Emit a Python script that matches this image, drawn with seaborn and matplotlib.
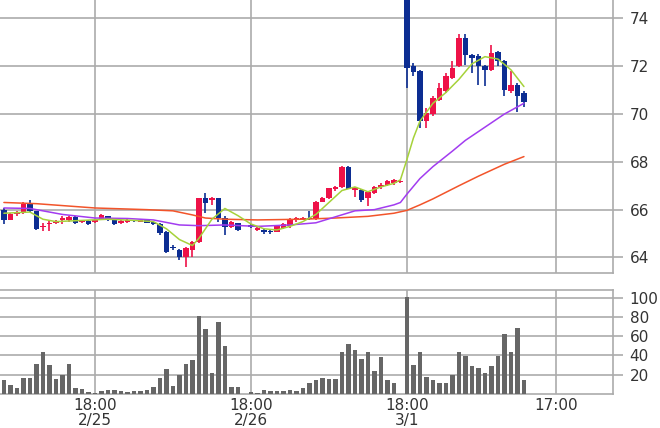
import numpy as np
import pandas as pd
import matplotlib
matplotlib.use("Agg")
import matplotlib.pyplot as plt
import seaborn as sns

# hourly bars, hour 0 = 2/25 18:00 (weekend removed)
hours = list(range(-14, 67))

opens = [66.0, 65.58, 65.82, 65.85, 66.28, 65.93, 65.28, 65.38, 65.45, 65.55,
         65.58, 65.7, 65.48, 65.52, 65.5, 65.58, 65.72, 65.58, 65.45, 65.48,
         65.56, 65.5, 65.55, 65.5, 65.39, 65.08, 64.45, 64.31, 64.03, 64.31,
         64.66, 66.48, 66.4, 66.48, 65.64, 65.29, 65.43, np.nan, 65.35, 65.15,
         65.15, 65.12, 65.08, 65.25, 65.3, 65.55, 65.58, 65.65, 65.6, 66.34,
         66.48, 66.85, 66.96, 67.8, 66.82, 66.82, 66.5, 66.7, 66.96, 67.05,
         67.1, 67.15, 75.6, 72.0, 71.8, 69.7, 70.0, 70.6, 70.95, 71.5,
         72.0, 73.19, 72.45, 72.42, 72.0, 71.86, 72.58, 72.2, 70.95, 71.23, 70.9]
highs = [66.05, 65.85, 65.95, 66.3, 66.4, 65.95, 65.45, 65.52, 65.55, 65.72,
         65.75, 65.72, 65.55, 65.55, 65.6, 65.8, 65.75, 65.6, 65.58, 65.6,
         65.58, 65.57, 65.58, 65.52, 65.45, 65.1, 64.52, 64.35, 64.45, 64.7,
         66.5, 66.68, 66.55, 66.5, 65.72, 65.52, 65.45, np.nan, 65.38, 65.3,
         65.18, 65.15, 65.35, 65.45, 65.65, 65.7, 65.7, 65.95, 66.38, 66.52,
         66.92, 67.0, 67.82, 67.82, 66.96, 66.85, 66.78, 67.0, 67.12, 67.26,
         67.3, 67.25, 75.8, 72.14, 71.85, 70.25, 70.75, 71.3, 71.72, 72.2,
         73.33, 73.33, 72.5, 72.5, 72.07, 72.9, 72.63, 72.25, 71.8, 71.3, 70.95]
lows = [65.4, 65.55, 65.75, 65.8, 65.9, 65.15, 65.12, 65.12, 65.4, 65.4,
        65.48, 65.42, 65.46, 65.36, 65.45, 65.55, 65.52, 65.35, 65.42, 65.45,
        65.48, 65.48, 65.43, 65.36, 64.94, 64.17, 64.31, 63.9, 63.62, 64.03,
        64.6, 65.85, 66.2, 65.5, 64.94, 65.25, 65.12, np.nan, 65.25, 65.12,
        65.0, 65.0, 65.05, 65.2, 65.25, 65.5, 65.55, 65.55, 65.55, 66.3,
        66.45, 66.8, 66.9, 66.85, 66.55, 66.33, 66.16, 66.65, 66.88, 67.0,
        67.05, 67.12, 71.07, 71.58, 69.4, 69.42, 69.9, 70.55, 70.9, 71.45,
        71.95, 72.07, 71.72, 71.23, 71.16, 71.8, 72.0, 70.74, 70.88, 70.1, 70.3]
closes = [65.57, 65.8, 65.9, 66.25, 65.95, 65.2, 65.32, 65.45, 65.5, 65.66,
          65.7, 65.45, 65.52, 65.38, 65.55, 65.76, 65.58, 65.42, 65.52, 65.56,
          65.52, 65.54, 65.46, 65.4, 65.01, 64.24, 64.38, 64.03, 64.38, 64.66,
          66.48, 66.27, 66.48, 65.64, 65.29, 65.5, 65.15, np.nan, 65.28, 65.25,
          65.08, 65.05, 65.3, 65.4, 65.6, 65.65, 65.62, 65.6, 66.34, 66.48,
          66.89, 66.96, 67.8, 66.88, 66.9, 66.4, 66.72, 66.96, 67.05, 67.2,
          67.25, 67.2, 71.93, 71.75, 69.7, 70.04, 70.67, 71.09, 71.58, 71.93,
          73.19, 72.49, 72.35, 72.0, 71.86, 72.56, 72.2, 71.02, 71.23, 70.74, 70.5]
volumes = [14.5, 9.7, 6, 17, 17, 31, 43.6, 30, 16, 19.7,
           31.5, 6, 5, 2, 1, 3.5, 4.4, 4.4, 3, 2.5,
           3, 3.5, 4.4, 7.5, 17, 26, 7.8, 19.7, 31, 35.5,
           81, 67, 22, 74.5, 50, 7.5, 7.5, 0, 2, 1.5,
           4.4, 3.5, 3.5, 3.5, 4.4, 3.5, 6.4, 11, 15, 17,
           16, 16, 43.6, 51.6, 45.4, 36, 43.6, 23.5, 38.8, 14.2,
           11.8, 0.5, 101, 30, 44, 17.3, 14.5, 11.4, 11.4, 20,
           44, 39.5, 28.7, 27, 22, 28.7, 39, 62, 44, 69, 14.2]

# moving averages
ma_s_hours = [-14, -10, -8, -6, -2, 2, 6, 9, 11, 13, 15, 16, 18, 20, 22, 24, 26, 28,
              30, 32, 34, 36, 38, 40, 42, 44, 46, 47, 48, 49, 50, 52, 54, 56, 58,
              60, 62, 64, 66]
ma_s = [65.85, 65.9, 65.6, 65.5, 65.55, 65.6, 65.55, 65.5, 65.2, 64.75, 64.5, 64.8,
        65.6, 66.05, 65.75, 65.4, 65.2, 65.15, 65.3, 65.5, 65.8, 66.3, 66.8, 66.95,
        66.75, 66.95, 67.1, 67.25, 68.1, 69.0, 69.7, 70.45, 70.9, 71.45, 72.1,
        72.4, 72.3, 71.85, 71.15]
ma_m_hours = [-14, -10, -5, 0, 5, 9, 13, 16, 20, 25, 30, 34, 37, 40, 43, 46, 47, 48,
              50, 52, 55, 57, 60, 63, 66]
ma_m = [66.07, 66.05, 65.8, 65.65, 65.63, 65.57, 65.36, 65.33, 65.36, 65.3, 65.36,
        65.45, 65.7, 65.95, 66.0, 66.2, 66.3, 66.65, 67.3, 67.8, 68.45, 68.9, 69.45,
        70.0, 70.45]
ma_l_hours = [-14, -9, 0, 8, 12, 15, 17, 20, 25, 32, 37, 42, 46, 48, 50, 52, 56, 59,
              63, 66]
ma_l = [66.3, 66.25, 66.07, 66.0, 65.95, 65.78, 65.65, 65.6, 65.57, 65.6, 65.65,
        65.72, 65.85, 65.97, 66.2, 66.45, 67.0, 67.4, 67.9, 68.22]

tick_hours = [0, 24, 48, 71]
tick_labels = ["18:00\n2/25", "18:00\n2/26", "18:00\n3/1", "17:00"]

df = pd.DataFrame({"hour": hours, "open": opens, "high": highs, "low": lows,
                   "close": closes, "volume": volumes})

sns.set_style("white")
plt.rcParams["font.family"] = ["DejaVu Sans"]

UP = "#ee1248"
DOWN = "#0c2d92"
GRID = "#ababab"
TXT = "#333333"

fig = plt.figure(figsize=(6.6, 4.28), dpi=100)
ax = fig.add_axes([0, 1 - 273 / 428, 613 / 660, 273 / 428])
axv = fig.add_axes([0, 1 - 394 / 428, 613 / 660, 104 / 428])

# candles
c = df.dropna()
up = c["close"] >= c["open"]
colors = np.where(up, UP, DOWN)
ax.vlines(c["hour"], c["low"], c["high"], colors=colors, lw=1.2, zorder=3)
body_lo = np.minimum(c["open"], c["close"])
body_h = np.maximum(np.abs(c["close"] - c["open"]), 0.05)
ax.bar(c["hour"], body_h, bottom=body_lo, width=0.85, color=colors,
       linewidth=0, zorder=4)

# moving averages
sns.lineplot(x=ma_l_hours, y=ma_l, ax=ax, color="#f2542a", lw=1.1, zorder=5)
sns.lineplot(x=ma_m_hours, y=ma_m, ax=ax, color="#a23cf0", lw=1.1, zorder=5)
sns.lineplot(x=ma_s_hours, y=ma_s, ax=ax, color="#a6d23a", lw=1.1, zorder=6)

# volume
sns.barplot(data=df, x="hour", y="volume", ax=axv, native_scale=True,
            color="#666666", saturation=1, width=0.7, linewidth=0, zorder=3)

xlim = (-14.6, 79.7)
for a in (ax, axv):
    a.set_xlim(*xlim)
    a.yaxis.tick_right()
    a.set_xlabel("")
    a.set_ylabel("")
    a.set_xticks(tick_hours)
    a.grid(True, color=GRID, lw=1.2)
    a.set_axisbelow(True)
    a.tick_params(axis="y", length=7, width=1.2, color=GRID, pad=5,
                  labelsize=11, labelcolor=TXT)
    a.tick_params(axis="x", length=0, pad=3, labelsize=11, labelcolor=TXT)
    a.spines["left"].set_visible(False)
    for s in ("right", "bottom", "top"):
        a.spines[s].set_color(GRID)
        a.spines[s].set_linewidth(1.2)

ax.spines["top"].set_visible(False)
ax.set_ylim(63.35, 74.77)
ax.set_yticks([64, 66, 68, 70, 72, 74])
ax.set_xticklabels([])

axv.set_ylim(0, 108)
axv.set_yticks([20, 40, 60, 80, 100])
axv.set_xticklabels(tick_labels, linespacing=1.0)

fig.savefig("out.png", dpi=100)
